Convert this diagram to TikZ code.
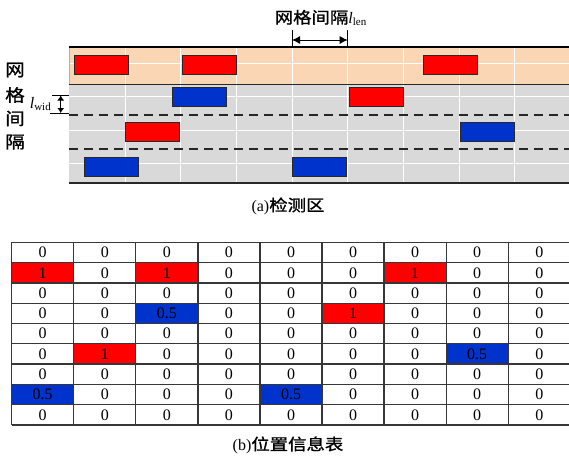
\documentclass[tikz,border=0pt]{standalone}
\usepackage{fontspec}
\setmainfont{Liberation Serif}
\newfontfamily\cjk[FakeStretch=1.15,FakeBold=1.2]{Noto Sans CJK SC}
\usetikzlibrary{arrows.meta}
\definecolor{peach}{RGB}{251,214,180}
\definecolor{peachedge}{RGB}{226,160,110}
\definecolor{roadgrey}{RGB}{217,217,217}
\definecolor{carred}{RGB}{255,0,0}
\definecolor{carblue}{RGB}{0,51,204}
\definecolor{gridline}{RGB}{55,55,55}
\definecolor{darkedge}{RGB}{40,40,40}
\tikzset{
  car/.style={draw=darkedge, line width=0.9pt, minimum width=54pt, minimum height=19pt, inner sep=0pt},
  redcar/.style={car, fill=carred},
  bluecar/.style={car, fill=carblue},
  whitegrid/.style={white, line width=0.9pt},
  lanedash/.style={black!85, line width=2pt, dash pattern=on 9pt off 6pt},
  cell/.style={inner sep=0pt, font=\fontsize{16}{18}\selectfont},
  label/.style={inner sep=0pt, font=\fontsize{16}{18}\selectfont},
  dimarrow/.style={line width=0.9pt, {Latex[length=8pt,width=8pt]}-{Latex[length=8pt,width=8pt]}},
  smallarrow/.style={line width=0.9pt, {Latex[length=5pt,width=7pt]}-{Latex[length=5pt,width=7pt]}},
  tick/.style={line width=0.7pt, black}
}
\begin{document}
\begin{tikzpicture}[x=1pt,y=-1pt]
\useasboundingbox (0,0) rectangle (569,459);
% ---------- detection area ----------
\fill[roadgrey] (69.3,84.3) rectangle (575,183.3);
\fill[peach] (69.3,47.3) rectangle (575,84.3);
\foreach \yy in {63.3,96.7,130,163.3}
  \draw[whitegrid] (69.3,\yy) -- (575,\yy);
\foreach \k in {1,...,9}
  \draw[whitegrid] ({69.3+55.7*\k},47.3) -- ({69.3+55.7*\k},183.3);
\draw[peachedge, line width=1pt] (575,84.3) -- (69.3,84.3) -- (69.3,47.3);
\draw[lanedash] (69.3,115) -- (575,115);
\draw[lanedash] (69.3,149.3) -- (575,149.3);
\draw[black, line width=2pt] (69.3,47.3) -- (575,47.3);
\draw[darkedge, line width=1.2pt] (69.3,84.6) -- (575,84.6);
\draw[darkedge, line width=2.2pt] (69.3,183.3) -- (575,183.3);
% cars
\node[redcar] (r1) at (101.7,64.5) {};
\node[redcar] (r2) at (209.7,64.5) {};
\node[redcar] (r3) at (450.3,64.5) {};
\node[bluecar] (b1) at (199.6,96.5) {};
\node[redcar] (r4) at (376.8,96.5) {};
\node[redcar] (r5) at (152.2,132.2) {};
\node[bluecar] (b2) at (487.7,132) {};
\node[bluecar] (b3) at (111.2,166.5) {};
\node[bluecar] (b4) at (319.6,166.5) {};
% l_len dimension
\coordinate (lenT1) at (292,30);
\coordinate (lenB1) at (292,47.3);
\coordinate (lenT2) at (347.7,30);
\coordinate (lenB2) at (347.7,47.3);
\coordinate (lenA) at (292,40);
\coordinate (lenB) at (347.7,40);
\draw[tick] (lenT1) -- (lenB1);
\draw[tick] (lenT2) -- (lenB2);
\draw[dimarrow] (lenA) -- (lenB);
\node[label] (lenlabel) at (320.5,18) {{\cjk 网格间隔}{\itshape l}\raisebox{-0.35ex}{\fontsize{11}{12}\selectfont len}};
% l_wid dimension
\coordinate (widL1) at (52,95.5);
\coordinate (widR1) at (69.3,95.5);
\coordinate (widL2) at (50,113);
\coordinate (widR2) at (69.3,113);
\coordinate (widA) at (60.7,95.5);
\coordinate (widB) at (60.7,113);
\draw[tick] (widL1) -- (widR1);
\draw[tick] (widL2) -- (widR2);
\draw[smallarrow] (widA) -- (widB);
\node[label, anchor=east] (widlabel) at (51,104) {{\itshape l}\raisebox{-0.4ex}{\fontsize{11}{12}\selectfont wid}};
% vertical label
\node[label, font=\fontsize{17}{18}\selectfont\cjk] (v1) at (15,70) {网};
\node[label, font=\fontsize{17}{18}\selectfont\cjk] (v2) at (15,95) {格};
\node[label, font=\fontsize{17}{18}\selectfont\cjk] (v3) at (15,118.5) {间};
\node[label, font=\fontsize{17}{18}\selectfont\cjk] (v4) at (15,142) {隔};
% caption a
\node[label] (capA) at (288,206) {(a){\cjk 检测区}};
% ---------- table ----------
\foreach \r/\c/\col in {2/1/carred, 2/3/carred, 2/7/carred, 4/3/carblue, 4/6/carred, 6/2/carred, 6/8/carblue, 8/1/carblue, 8/5/carblue}
  \fill[\col] ({11.7+62.07*(\c-1)},{242.3+20.3*(\r-1)}) rectangle ({11.7+62.07*\c},{242.3+20.3*\r});
\foreach \k in {0,...,9}
  \draw[gridline, line width=1.3pt] ({11.7+62.07*\k},242.3) -- ({11.7+62.07*\k},425);
\foreach \k in {0,...,9}
  \draw[gridline, line width=1.3pt] (11.7,{242.3+20.3*\k}) -- (572,{242.3+20.3*\k});
\foreach \row [count=\r] in {
  {0,0,0,0,0,0,0,0,0},
  {1,0,1,0,0,0,1,0,0},
  {0,0,0,0,0,0,0,0,0},
  {0,0,0.5,0,0,1,0,0,0},
  {0,0,0,0,0,0,0,0,0},
  {0,1,0,0,0,0,0,0.5,0},
  {0,0,0,0,0,0,0,0,0},
  {0.5,0,0,0,0.5,0,0,0,0},
  {0,0,0,0,0,0,0,0,0}} {
  \foreach \v [count=\c] in \row {
    \node[cell] (t\r-\c) at ({11.7+62.07*(\c-0.5)},{242.3+20.3*(\r-0.5)}) {\v};
  }
}
\node[label] (capB) at (288,445) {(b){\cjk 位置信息表}};
\end{tikzpicture}
\end{document}
